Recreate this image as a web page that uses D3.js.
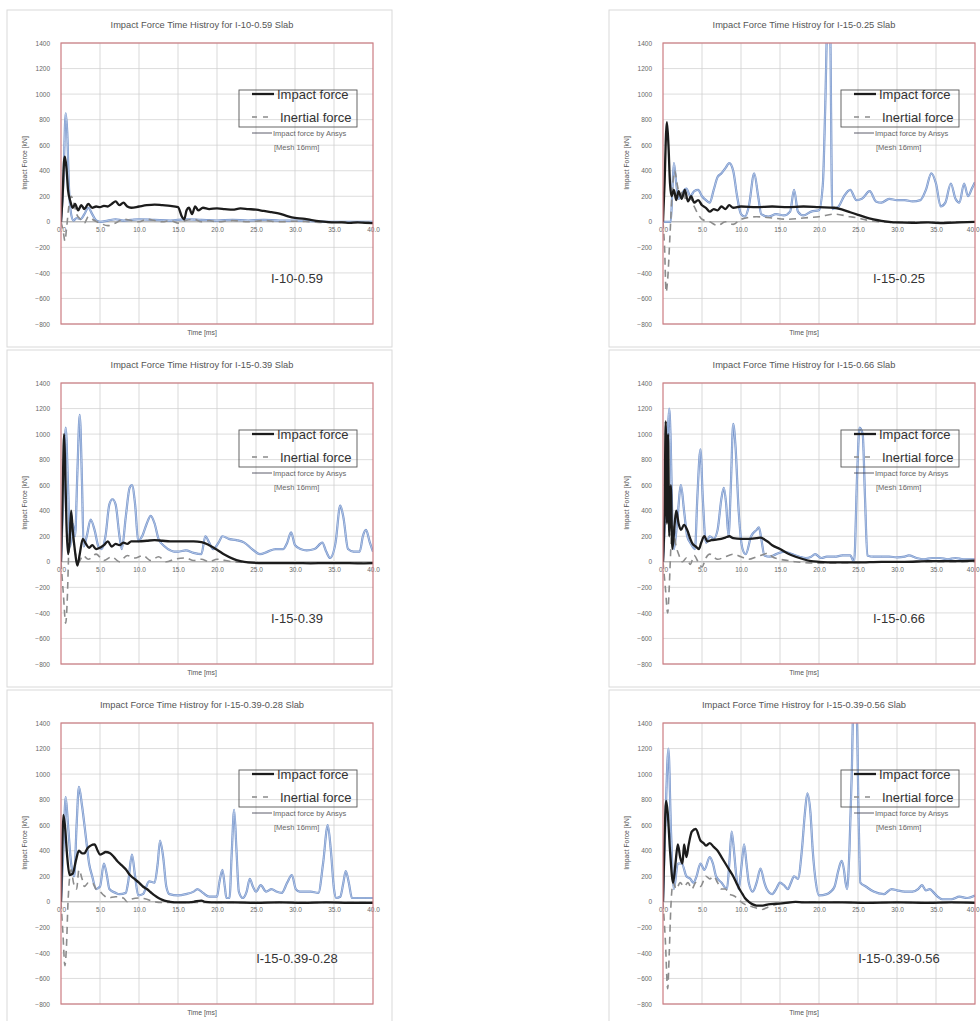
<!DOCTYPE html>
<html>
<head>
<meta charset="utf-8">
<script src="https://cdn.jsdelivr.net/npm/d3@7"></script>
<style>
  body { margin: 0; background: #fff; }
  svg { display: block; font-family: "Liberation Sans", Arial, sans-serif; }
</style>
</head>
<body>
<svg id="chart" width="980" height="1021"></svg>
<script>
// ticks
var yTicks = [1400, 1200, 1000, 800, 600, 400, 200, 0, -200, -400, -600, -800];
var xTicks = [0, 5, 10, 15, 20, 25, 30, 35, 40];

// panel titles and labels
var titles = [
  "Impact Force Time Histroy for I-10-0.59 Slab",
  "Impact Force Time Histroy for I-15-0.25 Slab",
  "Impact Force Time Histroy for I-15-0.39 Slab",
  "Impact Force Time Histroy for I-15-0.66 Slab",
  "Impact Force Time Histroy for I-15-0.39-0.28 Slab",
  "Impact Force Time Histroy for I-15-0.39-0.56 Slab"
];
var labels = ["I-10-0.59", "I-15-0.25", "I-15-0.39", "I-15-0.66", "I-15-0.39-0.28", "I-15-0.39-0.56"];

// [time ms, force kN]
var impact1 = [[0,0],[0.2,200],[0.4,480],[0.5,510],[0.7,420],[0.9,250],[1.2,160],[1.5,110],[1.8,140],[2.2,90],[2.6,130],[3.0,100],[3.5,140],[4.0,110],[4.5,120],[5.0,115],[5.5,125],[6.0,120],[6.5,140],[7.0,160],[7.5,130],[8.0,150],[8.5,120],[9.0,110],[10,120],[11,130],[12,135],[13,130],[14,125],[15,115],[15.5,40],[15.8,20],[16.1,90],[16.4,110],[16.8,60],[17.2,120],[17.6,90],[18.2,110],[19,100],[20,105],[21,100],[22,95],[23,105],[24,100],[25,95],[26,85],[27,75],[28,65],[29,45],[30,30],[31,25],[32,15],[33,5],[34,0],[35,-5],[36,-5],[37,-8],[38,-5],[39,-8],[40,-10]];
var inertial1 = [[0,0],[0.3,-80],[0.5,-150],[0.7,-60],[1.0,120],[1.3,200],[1.6,160],[2.0,60],[2.5,20],[3.0,-10],[3.5,40],[4.0,20],[5.0,-10],[6.0,-30],[7.0,-10],[8.0,20],[9.0,10],[10,0],[11,20],[12,10],[13,0],[14,10],[15,-10],[16,10],[17,20],[18,0],[19,10],[20,0],[22,10],[24,0],[26,10],[28,0],[30,5],[32,0],[34,-5],[36,0],[38,-5],[40,0]];
var ansys1 = [[0,0],[0.3,300],[0.6,850],[0.8,700],[1.0,300],[1.3,60],[1.6,10],[2.0,30],[2.5,20],[3.0,60],[3.5,110],[4.0,60],[4.5,10],[5,0],[6,10],[7,20],[8,10],[9,15],[10,20],[12,15],[14,10],[16,20],[18,15],[20,10],[22,15],[24,10],[26,15],[28,10],[30,10],[32,5],[34,0],[36,0],[38,0],[40,0]];

var impact2 = [[0,0],[0.2,300],[0.4,700],[0.5,780],[0.7,600],[0.9,300],[1.1,200],[1.4,250],[1.7,170],[2.0,240],[2.4,180],[2.8,250],[3.2,160],[3.6,200],[4.0,150],[4.5,170],[5.0,130],[5.5,110],[6.0,80],[6.5,100],[7.0,90],[7.5,120],[8.0,100],[8.5,130],[9.0,110],[10,120],[12,115],[14,120],[16,115],[18,120],[20,115],[22,110],[23,95],[24,75],[25,55],[26,35],[27,20],[28,8],[29,0],[30,-5],[32,-8],[34,-5],[36,-10],[38,-5],[40,0]];
var inertial2 = [[0,0],[0.2,-200],[0.4,-550],[0.6,-450],[0.9,-100],[1.2,250],[1.5,400],[1.8,300],[2.2,200],[2.6,250],[3.0,150],[3.5,180],[4.0,120],[4.5,60],[5.0,20],[6,0],[7,-30],[8,0],[9,-20],[10,20],[12,40],[14,30],[16,20],[18,30],[20,40],[22,60],[24,40],[25,30],[26,15],[27,5],[28,0],[30,-5],[32,0],[35,-5],[38,0],[40,0]];
var ansys2 = [[0,0],[1.0,0],[1.2,250],[1.4,460],[1.7,300],[2.0,180],[2.5,230],[3.0,260],[3.5,200],[4.0,240],[4.5,250],[5.0,200],[5.5,170],[6.0,150],[6.5,250],[7.0,350],[7.5,380],[8.0,420],[8.5,460],[9.0,400],[9.5,200],[10.0,60],[10.5,40],[11.0,120],[11.7,380],[12.2,200],[12.6,60],[13.5,40],[14.5,60],[15.5,50],[16.3,80],[16.8,250],[17.3,80],[18,50],[19,80],[20,90],[20.5,300],[20.8,900],[21.1,1600],[21.4,1600],[21.7,100],[22.5,120],[23.2,200],[24,250],[24.8,170],[25.5,180],[26.5,240],[27.3,160],[28,150],[29,180],[30,170],[31,170],[32,160],[33,170],[33.7,250],[34.4,380],[35,300],[35.6,120],[36.2,150],[36.9,300],[37.5,180],[38,150],[38.6,300],[39.1,200],[39.6,260],[40,310]];

var impact3 = [[0,0],[0.2,500],[0.4,1000],[0.55,700],[0.7,300],[0.9,60],[1.1,150],[1.3,400],[1.5,250],[1.8,80],[2.1,-30],[2.4,60],[2.8,180],[3.2,140],[3.6,110],[4.0,130],[4.5,100],[5.0,110],[5.5,130],[6.0,160],[6.5,120],[7.0,140],[7.5,130],[8.0,150],[8.5,140],[9,160],[10,160],[11,165],[12,170],[13,165],[14,160],[15,160],[16,160],[17,160],[18,155],[19,130],[20,95],[21,55],[22,25],[23,5],[24,-5],[26,-10],[28,-10],[30,-10],[32,-12],[34,-10],[36,-10],[38,-12],[40,-10]];
var inertial3 = [[0,0],[0.3,-250],[0.6,-480],[0.8,-300],[1.0,100],[1.2,320],[1.5,200],[1.9,50],[2.3,0],[2.8,50],[3.5,20],[4.5,60],[5.5,10],[6.5,40],[7.5,0],[8.5,50],[9.5,30],[10.5,50],[11.5,10],[12.5,40],[13.5,0],[14.5,20],[16,30],[17,10],[18,20],[19,0],[20,20],[22,0],[24,-5],[26,-10],[30,-10],[35,-10],[40,-10]];
var ansys3 = [[0,0],[0.3,500],[0.6,1050],[0.9,600],[1.2,120],[1.5,300],[1.8,200],[2.1,700],[2.4,1150],[2.7,600],[2.9,120],[3.3,200],[3.8,330],[4.3,250],[4.8,120],[5.2,100],[5.7,200],[6.2,450],[6.6,490],[7.0,450],[7.5,200],[7.8,100],[8.3,350],[8.8,580],[9.1,600],[9.5,450],[9.9,160],[10.4,200],[11.0,300],[11.5,360],[12.0,300],[12.5,180],[13.3,120],[14,90],[14.5,80],[15,80],[16,90],[17,70],[18,60],[18.5,200],[19,150],[19.5,100],[20.2,150],[20.7,200],[21.5,180],[22.5,170],[23.5,150],[24.5,100],[25.5,60],[26.5,80],[27.5,100],[28.5,100],[29.0,150],[29.5,230],[30.0,130],[30.7,100],[31.5,90],[32.5,100],[33.5,150],[34.0,80],[34.5,30],[35.2,150],[35.8,440],[36.2,350],[36.8,100],[37.5,80],[38.3,80],[38.7,200],[39.1,250],[39.6,150],[40,80]];

var impact4 = [[0,0],[0.2,400],[0.35,1100],[0.5,300],[0.65,1000],[0.8,200],[1.0,600],[1.2,100],[1.5,300],[1.7,400],[2.0,300],[2.3,250],[2.7,290],[3.1,250],[3.5,180],[3.8,140],[4.2,120],[4.6,100],[4.9,150],[5.3,200],[5.7,160],[6.2,170],[7,175],[8,190],[8.5,200],[9,185],[10,180],[11,180],[12,185],[12.5,190],[13,175],[13.5,155],[14,130],[15,100],[16,65],[17,40],[18,20],[19,5],[20,0],[22,-5],[25,-5],[28,0],[31,0],[34,5],[37,5],[40,10]];
var inertial4 = [[0,0],[0.3,-200],[0.6,-400],[0.8,-200],[1.0,100],[1.3,300],[1.6,150],[2.0,60],[2.5,0],[3.0,30],[3.5,-20],[4.0,50],[4.5,0],[5.0,-40],[5.5,30],[6.0,60],[7,20],[8,40],[9,60],[10,40],[11,20],[12,40],[13,60],[13.5,70],[14,40],[15,20],[16,10],[17,0],[18,-5],[20,-10],[25,-5],[30,0],[35,0],[40,0]];
var ansys4 = [[0,0],[0.3,400],[0.6,1000],[0.8,1200],[1.0,900],[1.2,300],[1.4,100],[1.8,300],[2.3,600],[2.7,400],[3.1,200],[3.5,150],[4.1,100],[4.4,500],[4.8,880],[5.1,500],[5.5,150],[6.0,200],[6.5,180],[7.0,250],[7.5,500],[7.8,580],[8.1,450],[8.4,200],[8.7,600],[9.0,1080],[9.3,900],[9.7,400],[10.2,100],[10.6,60],[11.3,200],[12.0,250],[12.3,270],[12.6,180],[13.0,50],[13.7,40],[14.5,60],[15.5,80],[16.5,60],[17.5,40],[18.3,30],[19,40],[19.5,60],[20.3,30],[21,40],[22,40],[23,50],[24,50],[24.5,0],[24.9,700],[25.2,1050],[25.6,1000],[25.9,500],[26.2,50],[27,40],[28,40],[29,40],[30,35],[31,40],[31.5,50],[32.5,30],[33.5,20],[34.5,30],[35.5,30],[36.5,20],[37.5,30],[38.5,20],[39.5,20],[40,20]];

var impact5 = [[0,0],[0.15,400],[0.3,680],[0.5,600],[0.8,350],[1.1,210],[1.5,220],[1.9,320],[2.3,400],[2.7,380],[3.0,380],[3.4,420],[3.8,440],[4.3,450],[4.7,400],[5.0,370],[5.4,380],[5.7,390],[6.3,380],[6.8,350],[7.2,320],[7.8,285],[8.3,255],[8.7,220],[9.0,200],[9.5,175],[10.0,150],[10.5,120],[11.0,100],[11.5,75],[12.0,50],[12.5,30],[13.0,15],[13.5,5],[14,0],[15,-5],[16,-5],[17,0],[18,10],[18.5,0],[20,-5],[22,-5],[25,-8],[28,-5],[31,-8],[34,-5],[37,-8],[40,-8]];
var inertial5 = [[0,0],[0.25,-250],[0.5,-500],[0.7,-350],[0.9,0],[1.3,250],[1.6,150],[2.0,100],[2.3,250],[2.7,180],[3.0,120],[3.5,150],[4.0,150],[4.5,100],[5.0,80],[5.5,50],[6,30],[7,40],[8,30],[8.5,0],[9,20],[10,30],[11,20],[12,0],[13,-5],[15,-5],[20,-5],[25,-5],[30,-5],[35,-5],[40,-5]];
var ansys5 = [[0,0],[0.3,400],[0.6,820],[0.9,600],[1.3,300],[1.7,200],[2.0,600],[2.3,900],[2.7,750],[3.2,500],[3.6,300],[4.0,200],[4.5,100],[5.0,120],[5.5,300],[5.9,200],[6.2,100],[7,70],[7.5,60],[8.3,70],[8.6,150],[9.1,370],[9.5,200],[9.9,50],[10.5,60],[11.3,160],[12,150],[12.4,300],[12.7,480],[13.1,350],[13.5,120],[13.9,60],[15,50],[16,60],[17,80],[17.5,100],[18.2,70],[19,40],[20,40],[20.3,150],[20.7,250],[21.0,120],[21.2,30],[21.6,30],[21.9,400],[22.2,720],[22.5,400],[22.8,80],[23.3,30],[23.8,80],[24.2,180],[24.6,120],[25,80],[25.6,130],[26.3,80],[27,100],[27.6,80],[28.3,70],[29,150],[29.6,210],[30.1,100],[30.6,80],[32,80],[33,70],[33.6,300],[34.2,600],[34.6,400],[35.0,100],[35.3,30],[35.8,40],[36.2,150],[36.5,240],[36.9,150],[37.3,30],[38,30],[39,30],[40,30]];

var impact6 = [[0,0],[0.2,500],[0.4,790],[0.6,700],[0.9,400],[1.3,150],[1.6,300],[1.9,450],[2.2,350],[2.5,300],[2.7,450],[3.0,350],[3.3,450],[3.7,550],[4.2,570],[4.8,480],[5.2,460],[5.5,440],[6.0,460],[6.5,430],[7.0,400],[7.5,350],[8.0,300],[8.5,250],[9.0,200],[9.4,150],[9.8,100],[10.2,60],[10.5,30],[11,0],[11.5,-20],[12,-30],[12.8,-30],[13.5,-20],[14.5,-15],[15.5,-10],[17,0],[18,-5],[20,-5],[23,-5],[26,-8],[30,-5],[34,-8],[37,-5],[40,-8]];
var inertial6 = [[0,0],[0.3,-300],[0.6,-680],[0.8,-400],[1.0,-50],[1.3,150],[1.7,100],[2.2,150],[2.7,120],[3.2,150],[3.7,100],[4.2,150],[4.8,120],[5.5,200],[6.0,180],[6.5,200],[7.0,150],[7.5,100],[8.0,100],[8.5,60],[9.0,50],[9.5,30],[10,0],[10.5,-20],[11.5,-40],[12.7,-60],[13.5,-40],[14.5,-20],[15.5,-10],[17,0],[20,0],[25,-5],[30,-5],[35,-5],[40,-5]];
var ansys6 = [[0,0],[0.3,600],[0.7,1200],[1.0,600],[1.4,100],[1.9,300],[2.4,300],[3.0,200],[3.5,180],[3.9,150],[4.3,200],[4.8,300],[5.3,250],[6.0,350],[6.4,300],[6.8,200],[7.5,150],[8.2,100],[8.5,300],[8.8,550],[9.1,400],[9.4,200],[9.7,100],[10.1,300],[10.4,450],[10.7,300],[11.0,150],[11.5,80],[12.0,150],[12.5,260],[13.0,150],[13.3,100],[14,60],[14.5,100],[15,150],[15.5,130],[16,100],[16.4,150],[16.8,200],[17.3,180],[17.8,400],[18.2,700],[18.5,850],[18.9,700],[19.2,400],[19.6,150],[20,50],[21,60],[21.5,80],[22,120],[22.5,250],[22.9,320],[23.2,250],[23.4,150],[23.6,100],[23.9,400],[24.2,1000],[24.4,1500],[24.8,1500],[25.1,600],[25.3,150],[26,120],[27,80],[28.3,60],[29.3,100],[30,90],[31,80],[32,80],[32.7,100],[33.2,130],[33.7,90],[34.2,100],[34.6,80],[35.2,40],[35.8,20],[37,20],[38,40],[39,30],[40,50]];

var impacts = [impact1, impact2, impact3, impact4, impact5, impact6];
var inertials = [inertial1, inertial2, inertial3, inertial4, inertial5, inertial6];
var ansyss = [ansys1, ansys2, ansys3, ansys4, ansys5, ansys6];

var svg = d3.select("#chart");

// layout of one panel
var colX = [0, 602];
var plot = {left: 61, top: 43, width: 312, height: 281};

var x = d3.scaleLinear().domain([0, 40]).range([0, plot.width]);
var y = d3.scaleLinear().domain([-800, 1400]).range([plot.height, 0]);

var line = d3.line()
    .x(function(d) { return x(d[0]); })
    .y(function(d) { return y(d[1]); })
    .curve(d3.curveMonotoneX);

titles.forEach(function(title, i) {
  var col = i % 2, row = Math.floor(i / 2);
  var g = svg.append("g")
      .attr("transform", "translate(" + colX[col] + "," + (row * 340) + ")");

  // outer chart frame
  g.append("rect")
      .attr("x", 7).attr("y", 10)
      .attr("width", 385).attr("height", 337)
      .attr("fill", "none")
      .attr("stroke", "#d9d9d9");

  g.append("text")
      .attr("x", plot.left + 141).attr("y", 28)
      .attr("text-anchor", "middle")
      .attr("font-size", 9.3)
      .attr("fill", "#555")
      .text(title);

  var p = g.append("g")
      .attr("transform", "translate(" + plot.left + "," + plot.top + ")");

  var clipId = "clip" + i;
  p.append("clipPath").attr("id", clipId)
    .append("rect").attr("width", plot.width).attr("height", plot.height);

  // grid
  p.append("g").selectAll("line")
    .data(yTicks)
    .enter().append("line")
      .attr("x1", 0).attr("x2", plot.width)
      .attr("y1", function(d) { return y(d); })
      .attr("y2", function(d) { return y(d); })
      .attr("stroke", function(d) { return d === 0 ? "#9a9a9a" : "#d6d6d6"; })
      .attr("stroke-width", function(d) { return d === 0 ? 1 : 0.8; });
  p.append("g").selectAll("line")
    .data(xTicks.slice(1, -1))
    .enter().append("line")
      .attr("y1", 0).attr("y2", plot.height)
      .attr("x1", function(d) { return x(d); })
      .attr("x2", function(d) { return x(d); })
      .attr("stroke", "#cfcfcf")
      .attr("stroke-width", 0.8);

  // y axis labels
  var yAxis = d3.axisLeft(y).tickValues(yTicks).tickSize(0).tickPadding(11)
      .tickFormat(d3.format("d"));
  var ya = p.append("g").call(yAxis);
  ya.select(".domain").remove();
  ya.selectAll("text").attr("font-size", 6.5).attr("fill", "#666")
      .style("font-family", "Liberation Sans, Arial, sans-serif");

  // x axis on the zero line
  var xAxis = d3.axisBottom(x).tickValues(xTicks).tickSize(0).tickPadding(6)
      .tickFormat(d3.format(".1f"));
  var xa = p.append("g").attr("transform", "translate(0," + y(0) + ")").call(xAxis);
  xa.select(".domain").remove();
  xa.selectAll("text").attr("font-size", 6.5).attr("fill", "#666")
      .style("font-family", "Liberation Sans, Arial, sans-serif");
  // right column sits at the page edge: keep the last label inside
  if (col === 1) {
    xa.selectAll("text").filter(function(d) { return d === 40; })
        .attr("text-anchor", "end").attr("dx", 4);
  }

  var lines = p.append("g").attr("clip-path", "url(#" + clipId + ")");

  // Ansys curve, drawn as a dark edge with a light core
  lines.append("path").datum(ansyss[i])
      .attr("fill", "none").attr("stroke", "#7593ca")
      .attr("stroke-width", 2.2).attr("stroke-linejoin", "round")
      .attr("d", line);
  lines.append("path").datum(ansyss[i])
      .attr("fill", "none").attr("stroke", "#c3d3ec")
      .attr("stroke-width", 0.8).attr("stroke-linejoin", "round")
      .attr("d", line);

  lines.append("path").datum(inertials[i])
      .attr("fill", "none").attr("stroke", "#8c8c8c")
      .attr("stroke-width", 1.6).attr("stroke-dasharray", "7,5")
      .attr("d", line);

  lines.append("path").datum(impacts[i])
      .attr("fill", "none").attr("stroke", "#1c1c1c")
      .attr("stroke-width", 2.3).attr("stroke-linejoin", "round")
      .attr("d", line);

  // plot border
  p.append("rect")
      .attr("width", plot.width).attr("height", plot.height)
      .attr("fill", "none").attr("stroke", "#cc7c82").attr("stroke-width", 1.2);

  // legend
  var lg = p.append("g");
  lg.append("rect")
      .attr("x", 178).attr("y", 47).attr("width", 118).attr("height", 37)
      .attr("fill", "none").attr("stroke", "#555").attr("stroke-width", 0.9);
  lg.append("line").attr("x1", 191).attr("x2", 213).attr("y1", 51).attr("y2", 51)
      .attr("stroke", "#1c1c1c").attr("stroke-width", 2.3);
  lg.append("text").attr("x", 216).attr("y", 55.5).attr("font-size", 13)
      .attr("fill", "#333").text("Impact force");
  lg.append("line").attr("x1", 191).attr("x2", 213).attr("y1", 74).attr("y2", 74)
      .attr("stroke", "#8c8c8c").attr("stroke-width", 1.6).attr("stroke-dasharray", "5,6");
  lg.append("text").attr("x", 219).attr("y", 78.5).attr("font-size", 13)
      .attr("fill", "#333").text("Inertial force");
  lg.append("line").attr("x1", 191).attr("x2", 211).attr("y1", 90).attr("y2", 90)
      .attr("stroke", "#334").attr("stroke-width", 0.8);
  lg.append("text").attr("x", 212).attr("y", 93).attr("font-size", 7.5)
      .attr("fill", "#666").text("Impact force by Ansys");
  lg.append("text").attr("x", 213).attr("y", 107).attr("font-size", 7.5)
      .attr("fill", "#666").text("[Mesh 16mm]");

  // specimen label
  p.append("text")
      .attr("x", 236).attr("y", 240)
      .attr("text-anchor", "middle")
      .attr("font-size", 13).attr("fill", "#333")
      .text(labels[i]);

  // axis titles
  g.append("text")
      .attr("x", plot.left + 141).attr("y", 335)
      .attr("text-anchor", "middle").attr("font-size", 6.8).attr("fill", "#555")
      .text("Time [ms]");
  g.append("text")
      .attr("transform", "translate(27," + (plot.top + 120) + ") rotate(-90)")
      .attr("text-anchor", "middle").attr("font-size", 6.8).attr("fill", "#555")
      .text("Impact Force [kN]");
});
</script>
</body>
</html>
